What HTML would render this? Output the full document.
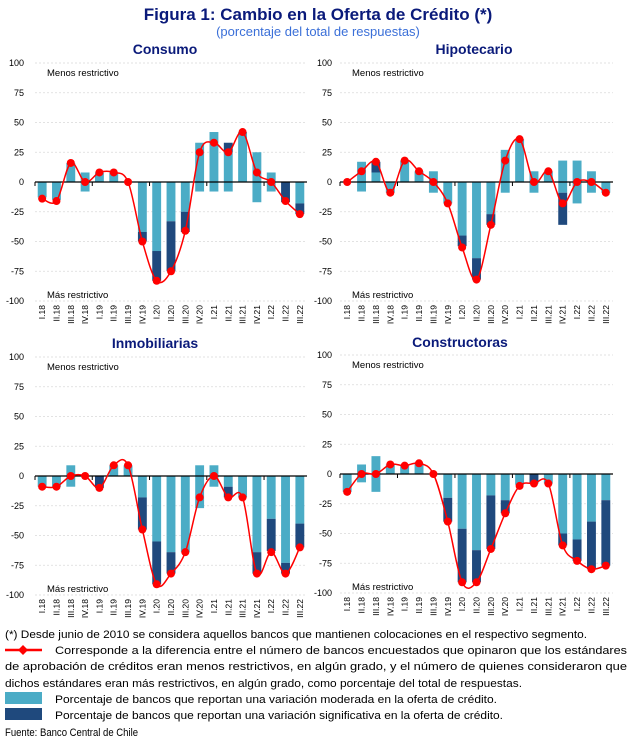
<!DOCTYPE html>
<html><head><meta charset="utf-8"><style>
html,body{margin:0;padding:0;background:#fff;}
svg{display:block;font-family:"Liberation Sans",sans-serif;}
</style></head><body>
<svg id="c" width="635" height="743" viewBox="0 0 635 743">
<text x="318" y="20" text-anchor="middle" font-size="17" font-weight="bold" fill="#0a1a7a">Figura 1: Cambio en la Oferta de Crédito (*)</text>
<text x="318" y="36" text-anchor="middle" font-size="13" fill="#3a6fd8">(porcentaje del total de respuestas)</text>
<g id="panels"></g>
<g font-size="11" fill="#000">
<text x="5" y="638" textLength="582" lengthAdjust="spacingAndGlyphs">(*) Desde junio de 2010 se considera aquellos bancos que mantienen colocaciones en el respectivo segmento.</text>
<line x1="5" y1="650" x2="42" y2="650" stroke="#ff0000" stroke-width="2.5"/>
<path d="M23 645 L28 650 L23 655 L18 650 Z" fill="#ff0000"/>
<text x="55" y="654" textLength="572" lengthAdjust="spacingAndGlyphs">Corresponde a la diferencia entre el número de bancos encuestados que opinaron que los estándares</text>
<text x="5" y="670" textLength="622" lengthAdjust="spacingAndGlyphs">de aprobación de créditos eran menos restrictivos, en algún grado, y el número de quienes consideraron que</text>
<text x="5" y="687" textLength="517" lengthAdjust="spacingAndGlyphs">dichos estándares eran más restrictivos, en algún grado, como porcentaje del total de respuestas.</text>
<rect x="5" y="692" width="37" height="12" fill="#4bacc6"/>
<text x="55" y="703" textLength="442" lengthAdjust="spacingAndGlyphs">Porcentaje de bancos que reportan una variación moderada en la oferta de crédito.</text>
<rect x="5" y="708" width="37" height="12" fill="#1f497d"/>
<text x="55" y="719" textLength="448" lengthAdjust="spacingAndGlyphs">Porcentaje de bancos que reportan una variación significativa en la oferta de crédito.</text>
<text x="5" y="736" textLength="133" lengthAdjust="spacingAndGlyphs">Fuente: Banco Central de Chile</text>
</g>
</svg>
<script>
const categories = ["I.18","II.18","III.18","IV.18","I.19","II.19","III.19","IV.19","I.20","II.20","III.20","IV.20","I.21","II.21","III.21","IV.21","I.22","II.22","III.22"];
const yTicks = [100,75,50,25,0,-25,-50,-75,-100];
const panelTitles = ["Consumo","Hipotecario","Inmobiliarias","Constructoras"];
// Consumo
const consPosLight = [0,0,16,8,8,8,0,0,0,0,0,33,42,25,42,25,8,0,0];
const consPosDark  = [0,0,0,0,0,0,0,0,0,0,0,0,0,8,0,0,0,0,0];
const consNegLight = [13,15,0,8,0,0,0,42,58,33,25,8,8,8,0,17,8,0,18];
const consNegDark  = [0,0,0,0,0,0,0,8,25,42,17,0,0,0,0,0,0,17,9];
const consLine = [-14,-16,16,0,8,8,0,-50,-83,-75,-41,25,33,25,42,8,0,-16,-27];
// Hipotecario
const hipPosLight = [0,17,8,0,18,9,9,0,0,0,0,27,36,9,9,18,18,9,0];
const hipPosDark  = [0,0,9,0,0,0,0,0,0,0,0,0,0,0,0,0,0,0,0];
const hipNegLight = [0,8,0,9,0,0,9,18,45,64,27,9,0,9,0,9,18,9,9];
const hipNegDark  = [0,0,0,0,0,0,0,0,9,18,9,0,0,0,0,27,0,0,0];
const hipLine = [0,9,17,-9,18,9,0,-18,-55,-82,-36,18,36,0,9,-18,0,0,-9];
// Inmobiliarias
const inmPosLight = [0,0,9,0,0,9,9,0,0,0,0,9,9,0,0,0,0,0,0];
const inmPosDark  = [0,0,0,0,0,0,0,0,0,0,0,0,0,0,0,0,0,0,0];
const inmNegLight = [9,9,9,0,0,0,0,18,55,64,64,27,9,9,18,64,36,73,40];
const inmNegDark  = [0,0,0,0,10,0,0,27,36,18,0,0,0,9,0,18,27,9,20];
const inmLine = [-9,-9,0,0,-10,9,9,-45,-91,-82,-64,-18,0,-18,-18,-82,-64,-82,-60];
// Constructoras
const conPosLight = [0,8,15,8,7,9,0,0,0,0,0,0,0,0,0,0,0,0,0];
const conPosDark  = [0,0,0,0,0,0,0,0,0,0,0,0,0,0,0,0,0,0,0];
const conNegLight = [15,7,15,0,0,0,0,20,46,64,18,22,9,0,8,50,55,40,22];
const conNegDark  = [0,0,0,0,0,0,0,20,45,27,45,11,0,8,0,10,18,40,55];
const conLine = [-15,0,0,8,7,9,0,-40,-91,-91,-63,-33,-10,-8,-8,-60,-73,-80,-77];

const series = [
 [consPosLight,consPosDark,consNegLight,consNegDark,consLine],
 [hipPosLight,hipPosDark,hipNegLight,hipNegDark,hipLine],
 [inmPosLight,inmPosDark,inmNegLight,inmNegDark,inmLine],
 [conPosLight,conPosDark,conNegLight,conNegDark,conLine]
];
const layout = [
 {x0:35,x1:307,yTop:63,yBot:301,tx:165,ty:54,lx:24},
 {x0:340,x1:613,yTop:63,yBot:301,tx:474,ty:54,lx:332},
 {x0:35,x1:307,yTop:357,yBot:595,tx:155,ty:348,lx:24},
 {x0:340,x1:613,yTop:355,yBot:593,tx:460,ty:347,lx:332}
];
const NS="http://www.w3.org/2000/svg";
const root=document.getElementById('panels');
function mk(tag,attrs,parent){const e=document.createElementNS(NS,tag);for(const k in attrs)e.setAttribute(k,attrs[k]);parent.appendChild(e);return e;}
const LIGHT="#4bacc6",DARK="#1f497d";
layout.forEach((L,p)=>{
  const g=mk('g',{},root);
  
  
  const yS=v=>L.yTop+(100-v)/200*(L.yBot-L.yTop);
  const step=(L.x1-L.x0)/categories.length;
  const xS=i=>L.x0+step*(i+0.5);
  const bw=step*0.62;
  const t=mk('text',{x:L.tx,y:L.ty,'text-anchor':'middle','font-size':14,'font-weight':'bold',fill:'#0a1a7a'},g);
  t.textContent=panelTitles[p];
  
  
  yTicks.forEach(v=>{
    if(v!==0){const gl=mk('line',{x1:L.x0,x2:L.x1,y1:yS(v),y2:yS(v),stroke:'#d9d9d9','stroke-width':0.8,'stroke-dasharray':'2,2'},g);
    
    }
    const tl=mk('text',{x:L.lx,y:yS(v)+3,'text-anchor':'end','font-size':9,fill:'#000'},g);
    tl.textContent=v;
    
    
  });
  const m1=mk('text',{x:L.x0+12,y:yS(100)+13,'font-size':9.5,fill:'#000'},g);m1.textContent='Menos restrictivo';
  
  
  const m2=mk('text',{x:L.x0+12,y:yS(-100)-3,'font-size':9.5,fill:'#000'},g);m2.textContent='Más restrictivo';
  
  
  const [pl,pd,nl,nd,ln]=series[p];
  categories.forEach((c,i)=>{
    const x=xS(i)-bw/2;
    const rects=[[0,pl[i],LIGHT,'bar-pos-moderate'],[pl[i],pl[i]+pd[i],DARK,'bar-pos-significant'],[0,-nl[i],LIGHT,'bar-neg-moderate'],[-nl[i],-nl[i]-nd[i],DARK,'bar-neg-significant']];
    rects.forEach(r=>{
      const a=yS(r[0]),b=yS(r[1]);const h=Math.abs(b-a);if(h<0.01)return;
      const re=mk('rect',{x:x,y:Math.min(a,b),width:bw,height:h,fill:r[2]},g);
      
      
    });
    const cl=mk('text',{transform:`translate(${xS(i)+3},${yS(-100)+4}) rotate(-90)`,'text-anchor':'end','font-size':8.5,fill:'#000'},g);
    cl.textContent=c;
    
    
  });
  const z=mk('line',{x1:L.x0,x2:L.x1,y1:yS(0),y2:yS(0),stroke:'#000','stroke-width':1.2},g);
  
  
  for(let k=0;k<=categories.length;k+=4){const tk=mk('line',{x1:L.x0+step*k,x2:L.x0+step*k,y1:yS(0),y2:yS(0)+4,stroke:'#000','stroke-width':1},g);
    
    }
  const pts=ln.map((v,i)=>[xS(i),yS(v)]);
  let d=`M${pts[0][0]},${pts[0][1]}`;
  for(let i=0;i<pts.length-1;i++){
    const p0=pts[Math.max(0,i-1)],p1=pts[i],p2=pts[i+1],p3=pts[Math.min(pts.length-1,i+2)];
    const c1=[p1[0]+(p2[0]-p0[0])/6,p1[1]+(p2[1]-p0[1])/6],c2=[p2[0]-(p3[0]-p1[0])/6,p2[1]-(p3[1]-p1[1])/6];
    d+=` C${c1[0]},${c1[1]} ${c2[0]},${c2[1]} ${p2[0]},${p2[1]}`;
  }
  const path=mk('path',{d:d,fill:'none',stroke:'#ff0000','stroke-width':1.5},g);
  
  
  pts.forEach(pt=>{const c=mk('circle',{cx:pt[0],cy:pt[1],r:4,fill:'#ff0000'},g);
    
    });
});
</script>
</body></html>
